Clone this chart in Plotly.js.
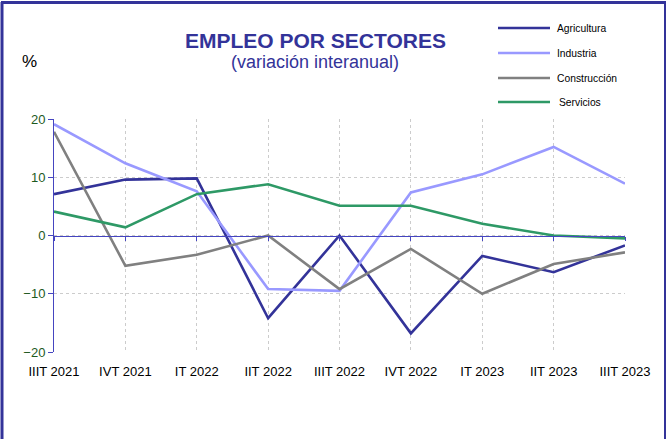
<!DOCTYPE html>
<html>
<head>
<meta charset="utf-8">
<script src="https://cdn.plot.ly/plotly-3.0.1.min.js"></script>
<style>html,body{margin:0;padding:0;background:#fff;}#chart{width:671px;height:439px;}</style>
</head>
<body>
<div id="chart"></div>
<script>
const quarters = ["IIIT 2021","IVT 2021","IT 2022","IIT 2022","IIIT 2022","IVT 2022","IT 2023","IIT 2023","IIIT 2023"];
const seriesNames = ["Agricultura","Industria","Construcción","Servicios"];
const agricultura  = [7.1, 9.6, 9.8, -14.2, 0.0, -16.8, -3.5, -6.3, -1.7];
const industria    = [19.1, 12.4, 7.6, -9.2, -9.5, 7.4, 10.5, 15.2, 8.9];
const construccion = [17.8, -5.2, -3.3, 0.0, -9.2, -2.3, -10.0, -4.9, -2.9];
const servicios    = [4.1, 1.4, 7.1, 8.8, 5.1, 5.1, 2.0, 0.0, -0.5];
const seriesValues = [agricultura, industria, construccion, servicios];
const seriesColors = ["#333399","#9999ff","#808080","#2e9966"];

// layout helpers: pixel -> paper
const L = 54, R = 46, T = 119, B = 87, W = 671, H = 439;
const PW = W - L - R, PH = H - T - B;
const px = x => (x - L) / PW;
const py = y => (H - B - y) / PH;
const FONT = "Liberation Sans, Arial";
const AXBLUE = "#4545c0";

// data traces live on the overlaying axis x2 so they are drawn above the zero-line axis (x)
const traces = seriesNames.map((name, i) => ({
  type: "scatter", mode: "lines", name: name,
  x: quarters, y: seriesValues[i], xaxis: "x2", yaxis: "y",
  line: {color: seriesColors[i], width: 2.6},
  showlegend: false, hoverinfo: "skip"
}));
// empty trace so the base category axis (zero line + tick marks) is drawn
traces.unshift({type: "scatter", mode: "lines", x: quarters, y: quarters.map(() => null), xaxis: "x", yaxis: "y", showlegend: false, hoverinfo: "skip"});

const shapes = [];
const annotations = [];
// outer frame
shapes.push({type:"line", xref:"paper", yref:"paper", x0:px(2), x1:px(2), y0:py(2), y1:py(460), line:{color:"#333399", width:3}});
shapes.push({type:"line", xref:"paper", yref:"paper", x0:px(1), x1:px(666), y0:py(2.5), y1:py(2.5), line:{color:"#333399", width:3}});
shapes.push({type:"line", xref:"paper", yref:"paper", x0:px(665), x1:px(665), y0:py(2), y1:py(460), line:{color:"#333399", width:2}});

// manual legend
const legY = [28, 53, 78, 102];
seriesNames.forEach((name, i) => {
  shapes.push({type:"line", xref:"paper", yref:"paper", x0:px(498), x1:px(550), y0:py(legY[i]), y1:py(legY[i]), line:{color:seriesColors[i], width:2.6}});
  annotations.push({xref:"paper", yref:"paper", x:px(555 + (i===3?2:0)), y:py(legY[i]), xanchor:"left", yanchor:"middle", showarrow:false, text:name, font:{family:FONT, size:10.3, color:"#000"}});
});

annotations.push({xref:"paper", yref:"paper", x:px(315), y:py(40), xanchor:"center", yanchor:"middle", showarrow:false, text:"<b>EMPLEO POR SECTORES</b>", font:{family:FONT, size:21, color:"#333399"}});
annotations.push({xref:"paper", yref:"paper", x:px(315), y:py(62), xanchor:"center", yanchor:"middle", showarrow:false, text:"(variación interanual)", font:{family:FONT, size:18, color:"#333399"}});
annotations.push({xref:"paper", yref:"paper", x:px(29), y:py(62), xanchor:"center", yanchor:"middle", showarrow:false, text:"%", font:{family:FONT, size:17, color:"#000"}});

const layout = {
  width: W, height: H,
  margin: {l: L, r: R, t: T, b: B, pad: 0},
  paper_bgcolor: "#fff", plot_bgcolor: "#fff",
  showlegend: false,
  font: {family: FONT, size: 13, color: "#000"},
  xaxis: {
    type: "category", range: [0, quarters.length - 1],
    anchor: "free", position: 0.5, side: "bottom",
    showgrid: false, zeroline: false, showticklabels: false,
    showline: true, linecolor: AXBLUE, linewidth: 1,
    ticks: "outside", ticklen: 4, tickcolor: AXBLUE, tickwidth: 1,
    fixedrange: true
  },
  xaxis2: {
    type: "category", range: [0, quarters.length - 1],
    overlaying: "x", anchor: "y", side: "bottom",
    showgrid: true, gridcolor: "#cccccc", griddash: "dot", gridwidth: 1,
    showline: false, ticks: "", zeroline: false,
    ticklabelstandoff: 10,
    tickfont: {family: FONT, size: 13, color: "#000"},
    fixedrange: true
  },
  yaxis: {
    range: [-20, 20], dtick: 10, tick0: 0,
    showgrid: true, gridcolor: "#cccccc", griddash: "dot", gridwidth: 1,
    showline: true, linecolor: AXBLUE, linewidth: 1,
    ticks: "outside", ticklen: 5, tickcolor: AXBLUE,
    zeroline: false,
    tickfont: {family: FONT, size: 13, color: "#1e5a1e"},
    fixedrange: true
  },
  shapes: shapes,
  annotations: annotations
};

Plotly.newPlot("chart", traces, layout, {displayModeBar: false, staticPlot: true});
</script>
</body>
</html>
